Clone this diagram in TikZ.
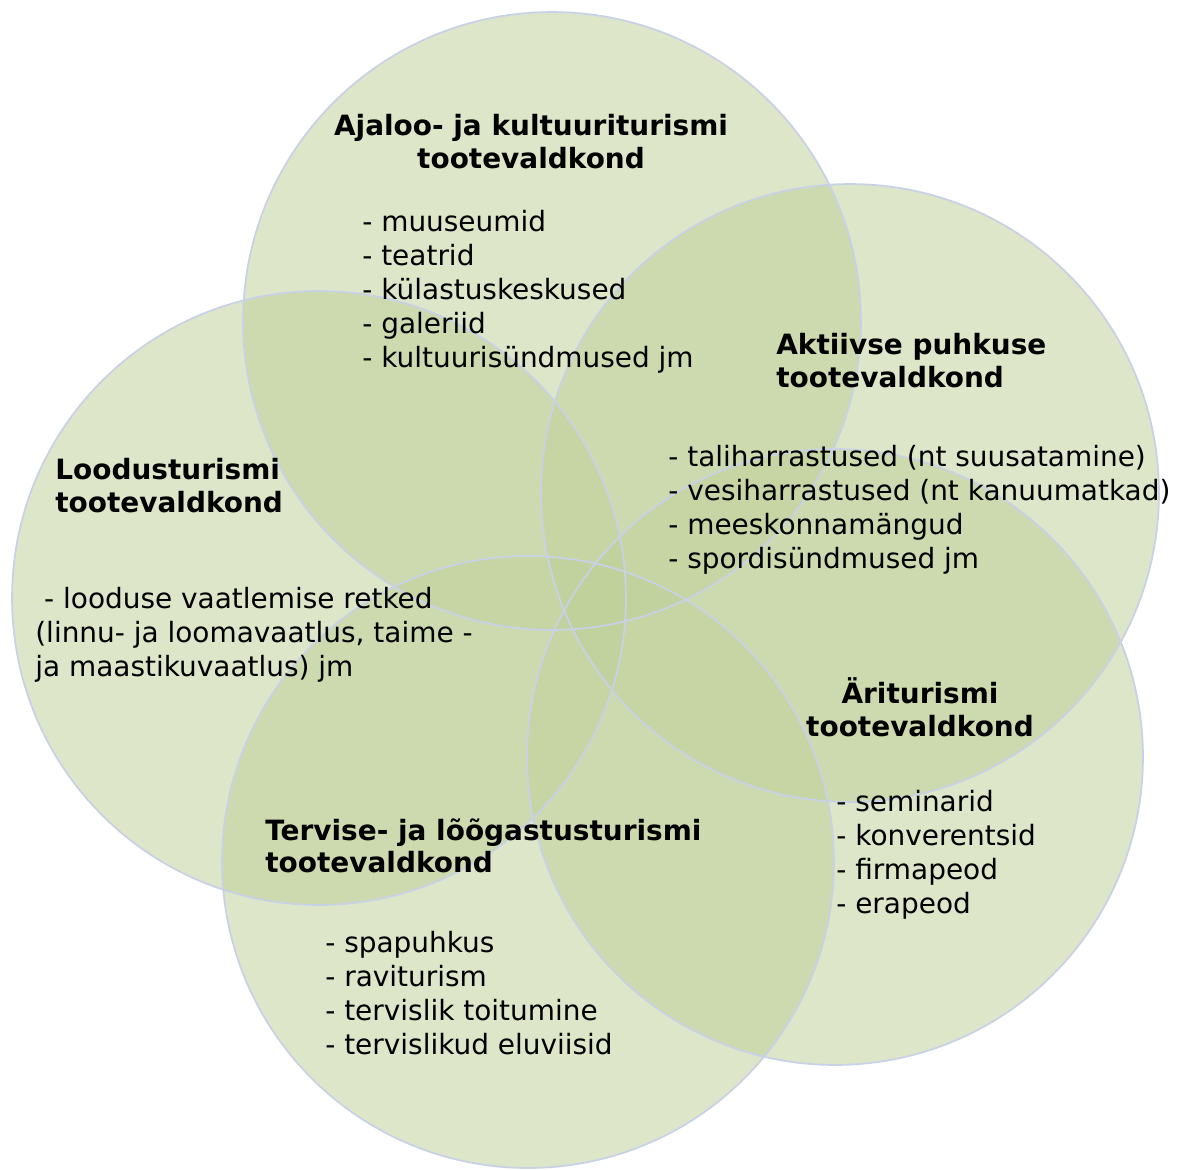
\documentclass[tikz,border=0pt]{standalone}
\usepackage{fontspec}
\setmainfont{DejaVu Sans}
\definecolor{ringfill}{RGB}{191,208,153}
\definecolor{ringline}{RGB}{200,209,230}
\begin{document}
\begin{tikzpicture}[x=0.02cm,y=-0.02cm,
    ring/.style={fill=ringfill,fill opacity=0.53},
    ringedge/.style={draw=ringline,line width=1pt},
    heading/.style={inner sep=0,align=left,font=\fontsize{15.9}{18.7}\selectfont\bfseries},
    items/.style={inner sep=0,align=left,font=\fontsize{15.9}{19.3}\selectfont}]
    \useasboundingbox (0,0) rectangle (1182,1169);

    % the five areas
    \fill[ring] (552,321) circle (6.18cm);
    \fill[ring] (850,493) circle (6.18cm);
    \fill[ring] (835,757) circle (6.16cm);
    \fill[ring] (528,862) circle (6.12cm);
    \fill[ring] (319,598) circle (6.14cm);

    \draw[ringedge] (552,321) circle (6.18cm);
    \draw[ringedge] (850,493) circle (6.18cm);
    \draw[ringedge] (835,757) circle (6.16cm);
    \draw[ringedge] (528,862) circle (6.12cm);
    \draw[ringedge] (319,598) circle (6.14cm);

    % culture
    \node[heading,align=center,anchor=north] (culthead) at (531,114)
        {Ajaloo- ja kultuuriturismi\\tootevaldkond};
    \node[items,anchor=north west] (cultlist) at (362,210)
        {- muuseumid\\- teatrid\\- külastuskeskused\\- galeriid\\- kultuurisündmused jm};

    % active holiday
    \node[heading,anchor=north west] (acthead) at (776,333)
        {Aktiivse puhkuse\\tootevaldkond};
    \node[items,anchor=north west] (actlist) at (668,445)
        {- taliharrastused (nt suusatamine)\\- vesiharrastused (nt kanuumatkad)\\- meeskonnamängud\\- spordisündmused jm};

    % nature
    \node[heading,anchor=north west] (natthead) at (55,458)
        {Loodusturismi\\tootevaldkond};
    \node[items,anchor=north west] (natlist) at (35,587)
        {\ - looduse vaatlemise retked\\(linnu- ja loomavaatlus, taime -\\ja maastikuvaatlus) jm};

    % business
    \node[heading,align=center,anchor=north] (bushead) at (920,677)
        {Äriturismi\\tootevaldkond};
    \node[items,anchor=north west] (buslist) at (836,790)
        {- seminarid\\- konverentsid\\- firmapeod\\- erapeod};

    % health
    \node[heading,anchor=north west] (healhead) at (265,818)
        {Tervise- ja lõõgastusturismi\\tootevaldkond};
    \node[items,anchor=north west] (heallist) at (325,931)
        {- spapuhkus\\- raviturism\\- tervislik toitumine\\- tervislikud eluviisid};
\end{tikzpicture}
\end{document}
